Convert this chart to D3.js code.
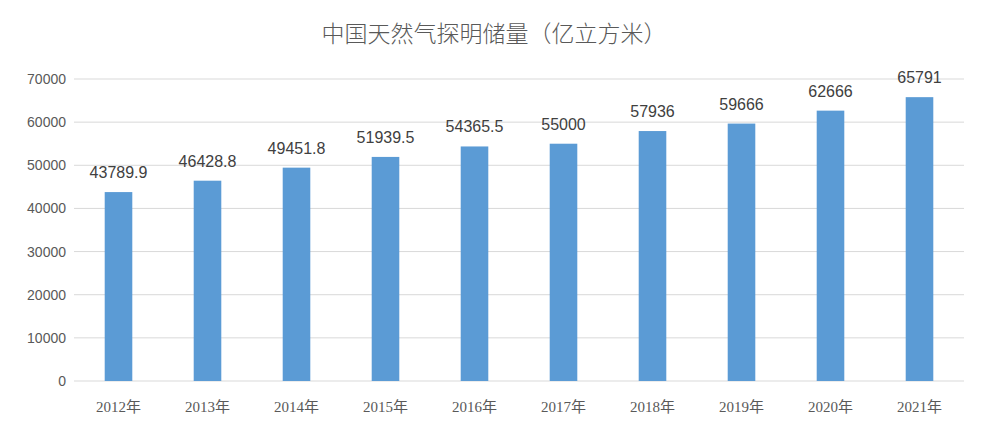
<!DOCTYPE html>
<html><head><meta charset="utf-8">
<script src="https://cdn.jsdelivr.net/npm/d3@7"></script>
<style>body{margin:0;background:#fff}</style></head>
<body><svg id="c" width="988" height="435"></svg>
<script>
const categories=["2012年","2013年","2014年","2015年","2016年","2017年","2018年","2019年","2020年","2021年"];
const values=[43789.9,46428.8,49451.8,51939.5,54365.5,55000,57936,59666,62666,65791];
const labels=["43789.9","46428.8","49451.8","51939.5","54365.5","55000","57936","59666","62666","65791"];
const yTicks=[0,10000,20000,30000,40000,50000,60000,70000];
const svg=d3.select("#c");
svg.append("rect").attr("width",988).attr("height",435).attr("fill","#fff");
const x=d3.scaleBand().domain(categories).range([74,964]).paddingInner(0.69).paddingOuter(0.345);
const y=d3.scaleLinear().domain([0,70000]).range([381,79]);
svg.append("g").selectAll("line").data(yTicks).join("line")
 .attr("x1",74).attr("x2",964).attr("y1",d=>y(d)).attr("y2",d=>y(d))
 .attr("stroke","#d9d9d9").attr("stroke-width",1);
svg.append("g").selectAll("text").data(yTicks).join("text")
 .attr("x",66).attr("y",d=>y(d)+5).attr("text-anchor","end")
 .attr("font-family","Liberation Sans, Arial").attr("font-size",14).attr("fill","#595959").text(d=>d);
svg.append("g").selectAll("rect").data(values).join("rect")
 .attr("x",(d,i)=>x(categories[i])).attr("width",x.bandwidth())
 .attr("y",d=>y(d)).attr("height",d=>y(0)-y(d)).attr("fill","#5b9bd5");
svg.append("g").selectAll("text").data(values).join("text")
 .attr("x",(d,i)=>x(categories[i])+x.bandwidth()/2).attr("y",d=>y(d)-14)
 .attr("text-anchor","middle").attr("font-family","Liberation Sans, Arial").attr("font-size",16).attr("fill","#404040")
 .text((d,i)=>labels[i]);
svg.append("g").selectAll("text").data(categories).join("text")
 .attr("x",d=>x(d)+x.bandwidth()/2).attr("y",412).attr("text-anchor","middle")
 .attr("font-family","Liberation Serif, Noto Sans CJK SC").attr("font-size",15).attr("fill","#595959").text(d=>d);
svg.append("text").attr("x",494).attr("y",42).attr("text-anchor","middle")
 .attr("font-family","Noto Sans CJK SC").attr("font-size",23).attr("fill","#595959").attr("font-weight",300)
 .text("中国天然气探明储量（亿立方米）");
</script></body></html>
